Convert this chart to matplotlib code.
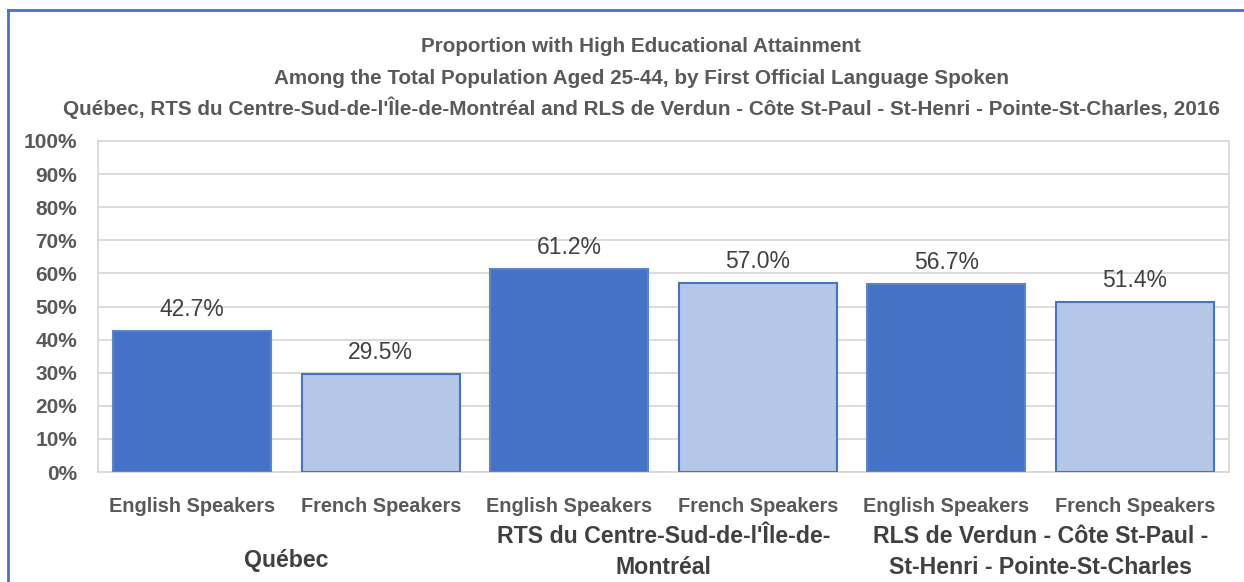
import matplotlib
matplotlib.use("Agg")
import matplotlib.pyplot as plt
from matplotlib.lines import Line2D

plt.rcParams['font.family'] = ['Liberation Sans', 'DejaVu Sans']

categories = ["English Speakers", "French Speakers"] * 3
groups = ["Québec", "RTS du Centre-Sud-de-l'Île-de-\nMontréal", "RLS de Verdun - Côte St-Paul -\nSt-Henri - Pointe-St-Charles"]
values = [42.7, 29.5, 61.2, 57.0, 56.7, 51.4]
labels = ["42.7%", "29.5%", "61.2%", "57.0%", "56.7%", "51.4%"]
yticks = [0, 10, 20, 30, 40, 50, 60, 70, 80, 90, 100]
title_lines = [
    "Proportion with High Educational Attainment",
    "Among the Total Population Aged 25-44, by First Official Language Spoken",
    "Québec, RTS du Centre-Sud-de-l'Île-de-Montréal and RLS de Verdun - Côte St-Paul - St-Henri - Pointe-St-Charles, 2016",
]

W, H = 1244, 582
fig = plt.figure(figsize=(W/100, H/100), dpi=100)
AX_L, AX_R, AX_T, AX_B = 98, 1229, 141, 472
ax = fig.add_axes([AX_L/W, 1-AX_B/H, (AX_R-AX_L)/W, (AX_B-AX_T)/H])

dark = "#4472C4"
light = "#B4C7E7"
colors = [dark, light] * 3
edges = ["#5B84CC", dark] * 3
x = list(range(len(values)))
ax.bar(x, values, width=0.84, color=colors, edgecolor=edges, linewidth=1.5, zorder=3)
for xi, v, lab in zip(x, values, labels):
    ax.text(xi, v + 3.0, lab, ha='center', va='bottom', fontsize=16.5, color='#404040')

ax.set_xlim(-0.5, 5.5)
ax.set_ylim(0, 100)
ax.set_yticks(yticks)
ax.set_yticklabels([f"{t}%" for t in yticks], fontsize=15, fontweight='bold', color='#595959')
ax.grid(axis='y', color='#D9D9D9', linewidth=1.3, zorder=0)
for s in ax.spines.values():
    s.set_color('#D9D9D9')
    s.set_linewidth(1.3)
ax.tick_params(axis='y', length=0, pad=15)
ax.set_xticks(x)
ax.set_xticklabels(categories, fontsize=14.3, fontweight='bold', color='#595959')
ax.tick_params(axis='x', length=0, pad=18)

# group labels
group_y = [560, 552, 552]
for gi, (g, gy) in enumerate(zip(groups, group_y)):
    xc = (2*gi + 1) / 6.0
    fig.text((AX_L + xc*(AX_R-AX_L))/W, 1 - gy/H, g, ha='center', va='center', fontsize=16.7,
             fontweight='bold', color='#404040', linespacing=1.4)

# title
for t, ty in zip(title_lines, [47, 78, 108]):
    fig.text((641)/W, 1 - ty/H, t, ha='center', va='center', fontsize=14.9,
             fontweight='bold', color='#595959')

# border
fig.add_artist(Line2D([8/W, 8/W], [0, 1 - 10/H], transform=fig.transFigure, color='#4472C4', linewidth=2))
fig.add_artist(Line2D([8/W, 1], [1 - 10/H, 1 - 10/H], transform=fig.transFigure, color='#4472C4', linewidth=2))

fig.savefig("out.png", dpi=100)
